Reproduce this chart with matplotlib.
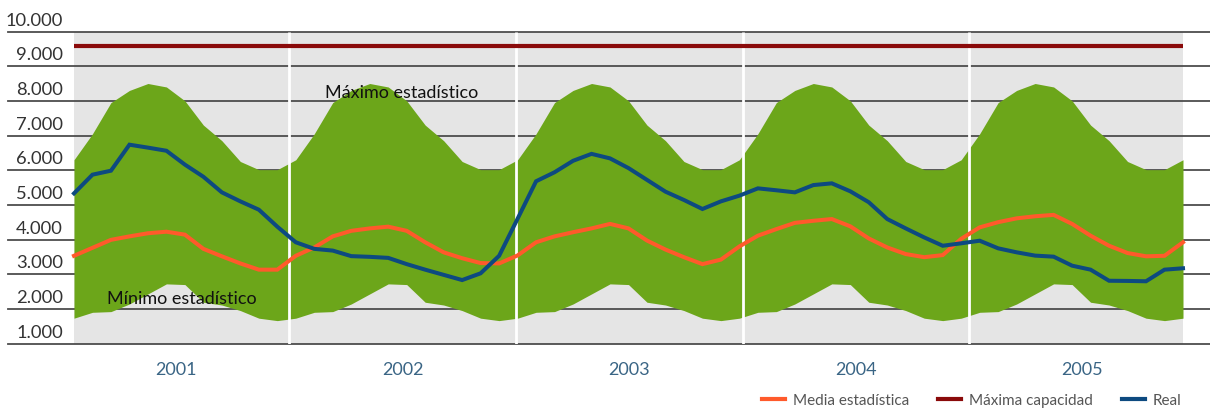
import numpy as np
import matplotlib.pyplot as plt
from matplotlib.lines import Line2D

plt.rcParams['font.family'] = ['Lato', 'DejaVu Sans']

years = ['2001', '2002', '2003', '2004', '2005']

# statistical max / min per month (repeats every year)
max_stat = [6300, 7050, 7950, 8300, 8500, 8400, 8000, 7300, 6850, 6250, 6015, 6015]
min_stat = [1730, 1900, 1920, 2140, 2430, 2720, 2700, 2190, 2110, 1950, 1730, 1660]

media = [3530, 3760, 3990, 4090, 4180, 4225, 4140, 3730, 3515, 3310, 3130, 3130,
         3530, 3770, 4090, 4250, 4320, 4370, 4250, 3920, 3630, 3460, 3320, 3310,
         3540, 3920, 4090, 4210, 4320, 4450, 4320, 3970, 3710, 3490, 3290, 3420,
         3800, 4110, 4300, 4480, 4540, 4590, 4380, 4030, 3770, 3580, 3490, 3550,
         4020, 4350, 4500, 4610, 4670, 4710, 4450, 4110, 3820, 3610, 3515, 3530, 3920]

real = [5330, 5870, 5985, 6735, 6650, 6560, 6160, 5810, 5360, 5100, 4860, 4370,
        3920, 3730, 3680, 3520, 3500, 3470, 3290, 3130, 2980, 2830, 3025, 3530,
        4600, 5680, 5940, 6270, 6470, 6340, 6060, 5720, 5380, 5140, 4880, 5100,
        5265, 5475, 5420, 5360, 5570, 5620, 5390, 5075, 4590, 4320, 4060, 3820,
        3890, 3965, 3745, 3630, 3535, 3505, 3245, 3130, 2810, 2805, 2795, 3130, 3170]

max_capacity = 9570

x = np.arange(len(real))
upper = np.append(np.tile(max_stat, len(years)), max_stat[0])
lower = np.append(np.tile(min_stat, len(years)), min_stat[0])

fig = plt.figure(figsize=(12.1, 4.14), dpi=100)
ax = fig.add_axes([8 / 1210, 69.5 / 414, 1202 / 1210, 312 / 414])
px = 1109 / 60  # pixels per month
ax.set_xlim(-66 / px, 60 + 27 / px)
ax.set_ylim(1000, 10000)
ax.axis('off')

ax.axvspan(0, 60, color='#e5e5e5', lw=0, zorder=0)
for v in range(1000, 10001, 1000):
    ax.axhline(v, color='#4d4d4d', lw=1.3, zorder=1, clip_on=False)
    ax.text(-0.6, v + 200, f'{v:,}'.replace(',', '.'), ha='right', va='baseline',
            fontsize=13.2, color='#333333')

ax.fill_between(x, lower, upper, color='#6ca61a', lw=0, zorder=2)

# year blocks
year_w = 226.6 / px
first_edge = (289.3 - 74) / px
edges = first_edge + year_w * np.arange(len(years) - 1)
ax.vlines(edges, 1000, 10000, colors='white', lw=2, zorder=3)
for k, yr in enumerate(years):
    ax.text(first_edge - year_w / 2 + k * year_w, 265, yr, ha='center', va='center',
            fontsize=13, color='#3a6585')

ax.hlines(max_capacity, 0, 60, color='#8a0a0a', lw=3, zorder=4)
ax.plot(x, media, color='#ff5a2b', lw=2.9, zorder=5, solid_joinstyle='miter')
ax.plot(x, real, color='#0d4a80', lw=2.9, zorder=6, solid_joinstyle='miter')

ax.text(13.58, 8263, 'Máximo estadístico', ha='left', va='center', fontsize=13,
        color='#111111', zorder=7)
ax.text(1.77, 2304, 'Mínimo estadístico', ha='left', va='center', fontsize=13,
        color='#111111', zorder=7)

handles = [Line2D([], [], color='#ff5a2b', lw=3),
           Line2D([], [], color='#8a0a0a', lw=3),
           Line2D([], [], color='#0d4a80', lw=3)]
leg = fig.legend(handles, ['Media estadística', 'Máxima capacidad', 'Real'],
                 loc='center right', bbox_to_anchor=(1181 / 1210, 12.5 / 414),
                 ncol=3, frameon=False, fontsize=11, handlelength=1.5,
                 handletextpad=0.5, columnspacing=1.9, borderpad=0, borderaxespad=0)
for t in leg.get_texts():
    t.set_color('#555555')

fig.savefig('out.png', dpi=100)
